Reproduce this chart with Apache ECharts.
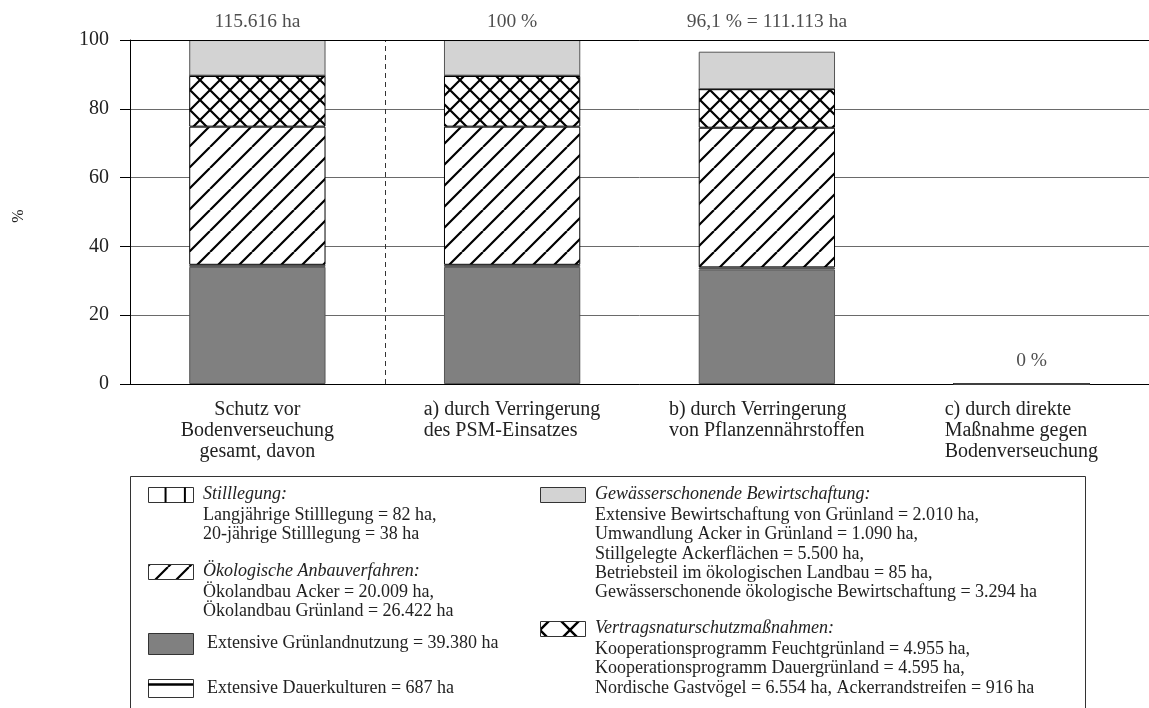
<!DOCTYPE html>
<html>
<head>
<meta charset="utf-8">
<script src="https://cdn.jsdelivr.net/npm/echarts@6/dist/echarts.min.js"></script>
<style>
html,body{margin:0;padding:0;background:#fff;}
#chart{width:1149px;height:708px;}
</style>
</head>
<body>
<div id="chart"></div>
<script>
// ---------- DATA ----------
const categories = [
  'Schutz vor\nBodenverseuchung\ngesamt, davon',
  'a) durch Verringerung\ndes PSM-Einsatzes',
  'b) durch Verringerung\nvon Pflanzennährstoffen',
  'c) durch direkte\nMaßnahme gegen\nBodenverseuchung'
];
const extGruenland   = [34.06, 34.06, 33.3, 0];
const extDauer       = [0.59, 0.59, 0.6, 0];
const oekoAnbau      = [40.16, 40.16, 40.6, 0];
const vertragsschutz = [14.72, 14.72, 11.2, 0];
const stilllegung    = [0.10, 0.10, 0.0, 0];
const gewaesser      = [10.36, 10.36, 10.9, 0];
const topLabels = ['115.616 ha', '100 %', '96,1 % = 111.113 ha', '0 %'];
const yTicks = [0, 20, 40, 60, 80, 100];

const legendTitles = [
  'Stilllegung:',
  'Ökologische Anbauverfahren:',
  'Extensive Grünlandnutzung = 39.380 ha',
  'Extensive Dauerkulturen = 687 ha',
  'Gewässerschonende Bewirtschaftung:',
  'Vertragsnaturschutzmaßnahmen:'
];
const legendDetails = [
  ['Langjährige Stilllegung = 82 ha,', '20-jährige Stilllegung = 38 ha'],
  ['Ökolandbau Acker = 20.009 ha,', 'Ökolandbau Grünland = 26.422 ha'],
  [],
  [],
  ['Extensive Bewirtschaftung von Grünland = 2.010 ha,', 'Umwandlung Acker in Grünland = 1.090 ha,',
   'Stillgelegte Ackerflächen = 5.500 ha,', 'Betriebsteil im ökologischen Landbau = 85 ha,',
   'Gewässerschonende ökologische Bewirtschaftung = 3.294 ha'],
  ['Kooperationsprogramm Feuchtgrünland = 4.955 ha,', 'Kooperationsprogramm Dauergrünland = 4.595 ha,',
   'Nordische Gastvögel = 6.554 ha, Ackerrandstreifen = 916 ha']
];

// ---------- STYLES ----------
const FONT = '"Liberation Serif", "Times New Roman", serif';
const XFS = 20;

function makePattern(w, h, draw) {
  const c = document.createElement('canvas');
  c.width = w; c.height = h;
  const ctx = c.getContext('2d');
  ctx.fillStyle = '#fff';
  ctx.fillRect(0, 0, w, h);
  ctx.strokeStyle = '#000';
  draw(ctx, w, h);
  return { image: c, repeat: 'repeat' };
}
const hatchPat = makePattern(21, 21, (ctx, s) => {
  ctx.lineWidth = 2.2;
  ctx.beginPath();
  for (let k = -1; k <= 1; k++) { ctx.moveTo(k * s, s); ctx.lineTo(k * s + s, 0); }
  ctx.stroke();
});
const crossPat = makePattern(20, 20, (ctx, s) => {
  ctx.lineWidth = 2.2;
  ctx.beginPath();
  for (let k = -1; k <= 1; k++) {
    ctx.moveTo(k * s, s); ctx.lineTo(k * s + s, 0);
    ctx.moveTo(k * s, 0); ctx.lineTo(k * s + s, s);
  }
  ctx.stroke();
});
const crossPatBig = makePattern(30, 30, (ctx, s) => {
  ctx.lineWidth = 2.4;
  ctx.beginPath();
  for (let k = -1; k <= 1; k++) {
    ctx.moveTo(k * s, s); ctx.lineTo(k * s + s, 0);
    ctx.moveTo(k * s, 0); ctx.lineTo(k * s + s, s);
  }
  ctx.stroke();
});
const vertPat = makePattern(15, 10, (ctx, w, h) => {
  ctx.lineWidth = 2;
  ctx.beginPath(); ctx.moveTo(8, 0); ctx.lineTo(8, h); ctx.stroke();
});
const DARK = '#808080';
const LIGHT = '#d3d3d3';

const seriesDefs = [
  { name: legendTitles[2], data: extGruenland, color: DARK, border: '#555' },
  { name: legendTitles[3], data: extDauer, color: DARK, border: '#444' },
  { name: legendTitles[1], data: oekoAnbau, color: hatchPat, border: '#000' },
  { name: legendTitles[5], data: vertragsschutz, color: crossPat, border: '#000' },
  { name: legendTitles[0], data: stilllegung, color: vertPat, border: '#000' },
  { name: legendTitles[4], data: gewaesser, color: LIGHT, border: '#555' }
];

const series = seriesDefs.map(d => ({
  type: 'bar',
  name: d.name,
  stack: 'total',
  barWidth: '53.5%',
  data: d.data,
  itemStyle: { color: d.color, borderColor: d.border, borderWidth: 1 },
  emphasis: { disabled: true },
  silent: true
}));

// labels above bars / in empty column, plus separator & top frame line
series.push({
  type: 'scatter',
  xAxisIndex: 1,
  symbolSize: 0,
  clip: false,
  silent: true,
  z: 10,
  data: topLabels.map((t, i) => ({
    value: [i + 0.5, i < 3 ? 105.2 : 6.8],
    label: { formatter: t, offset: i < 3 ? [0, 0] : [10, 0] }
  })),
  label: { show: true, position: 'inside', color: '#222', fontFamily: FONT, fontSize: 19.5 },
  markLine: {
    silent: true,
    symbol: 'none',
    label: { show: false },
    data: [
      { xAxis: 1, lineStyle: { type: [5, 4], color: '#333', width: 1 } },
      { yAxis: 100, lineStyle: { type: 'solid', color: '#000', width: 1 } }
    ]
  }
});

// ---------- category labels: block centred, lines left-aligned (except first) ----------
const measure = document.createElement('canvas').getContext('2d');
measure.font = XFS + 'px ' + FONT;
const rich = {};
const catLabelText = categories.map((c, i) => {
  const lines = c.split('\n');
  const w = Math.ceil(Math.max(...lines.map(l => measure.measureText(l).width)));
  rich['l' + i] = { width: w, align: i === 0 ? 'center' : 'left', fontFamily: FONT, fontSize: XFS, lineHeight: 21, color: '#222' };
  return lines.map(l => '{l' + i + '|' + l + '}').join('\n');
});

// ---------- LEGEND (graphic) ----------
const LFS = 18;
const legendLayout = [
  { x: 148, tx: 203, y: 494, h: 15, italic: true },
  { x: 148, tx: 203, y: 571, h: 15, italic: true },
  { x: 148, tx: 207, y: 643, h: 21, italic: false },
  { x: 148, tx: 207, y: 688, h: 18, italic: false },
  { x: 540, tx: 595, y: 494, h: 15, italic: true },
  { x: 540, tx: 595, y: 628, h: 15, italic: true }
];
const swatchFill = ['#fff', hatchPat, DARK, '#fff', LIGHT, crossPatBig];
const LINE = 19.4;
const graphic = [{
  type: 'rect', silent: true,
  shape: { x: 130.5, y: 476.5, width: 955, height: 260 },
  style: { fill: 'none', stroke: '#333', lineWidth: 1 }
}];
legendLayout.forEach((L, i) => {
  const top = Math.round(L.y - L.h / 2) + 0.5;
  graphic.push({
    type: 'rect', silent: true,
    shape: { x: L.x + 0.5, y: top, width: 45, height: L.h },
    style: { fill: swatchFill[i], stroke: '#333', lineWidth: 1 }
  });
  if (i === 0) { // vertical-line swatch (Stilllegung)
    [0.39, 0.82].forEach(f => graphic.push({
      type: 'line', silent: true,
      shape: { x1: L.x + 45 * f, y1: top, x2: L.x + 45 * f, y2: top + L.h },
      style: { stroke: '#000', lineWidth: 2 }
    }));
  }
  if (i === 3) { // horizontal-line swatch (Dauerkulturen)
    graphic.push({
      type: 'line', silent: true,
      shape: { x1: L.x, y1: top + 5, x2: L.x + 45, y2: top + 5 },
      style: { stroke: '#000', lineWidth: 2.5 }
    });
  }
  graphic.push({
    type: 'text', silent: true, x: L.tx, y: L.y,
    style: { text: legendTitles[i], fill: '#222', font: (L.italic ? 'italic ' : '') + LFS + 'px ' + FONT, verticalAlign: 'middle' }
  });
  legendDetails[i].forEach((line, j) => {
    graphic.push({
      type: 'text', silent: true, x: L.tx, y: L.y + 21 + j * LINE,
      style: { text: line, fill: '#222', font: LFS + 'px ' + FONT, verticalAlign: 'middle' }
    });
  });
});

const chart = echarts.init(document.getElementById('chart'), null, { renderer: 'canvas' });
chart.setOption({
  backgroundColor: '#fff',
  animation: false,
  textStyle: { fontFamily: FONT },
  grid: { left: 130, top: 40, width: 1024, height: 344, containLabel: false },
  xAxis: [{
    type: 'category',
    data: categories,
    axisLine: { lineStyle: { color: '#000', width: 1 } },
    axisTick: { show: false },
    axisLabel: {
      interval: 0, margin: 15,
      formatter: (v, i) => catLabelText[i],
      rich: rich
    }
  }, {
    type: 'value', min: 0, max: 4, show: false
  }],
  yAxis: {
    type: 'value',
    min: 0, max: 100, interval: 20,
    name: '%',
    nameLocation: 'middle',
    nameRotate: 90,
    nameGap: 103,
    nameTextStyle: { color: '#222', fontFamily: FONT, fontSize: 16, padding: [0, 8, 0, 0] },
    axisLine: { show: true, lineStyle: { color: '#000', width: 1 } },
    axisTick: { show: true, inside: false, length: 10, lineStyle: { color: '#000' } },
    axisLabel: { color: '#222', fontFamily: FONT, fontSize: 20, margin: 21,
      formatter: v => yTicks.includes(v) ? String(v) : '' },
    splitLine: { show: true, lineStyle: { color: '#6a6a6a', width: 1 } }
  },
  series: series,
  graphic: graphic
});
</script>
</body>
</html>
